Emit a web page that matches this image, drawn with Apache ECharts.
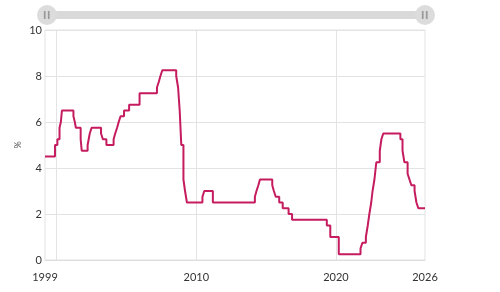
<!DOCTYPE html>
<html>
<head>
<meta charset="utf-8">
<script src="https://cdn.jsdelivr.net/npm/echarts@6/dist/echarts.min.js"></script>
<style>
  html, body { margin: 0; padding: 0; background: #fff; }
  #chart { width: 500px; height: 292px; }
</style>
</head>
<body>
<div id="chart"></div>
<script>
// official cash rate, change dates and new level (%)
const rateDates = [
  '1999-03-01', '1999-11-17', '2000-01-19', '2000-03-15', '2000-04-19', '2000-05-17',
  '2001-03-14', '2001-04-19', '2001-05-16', '2001-09-19', '2001-10-17',
  '2002-03-20', '2002-04-17', '2002-05-15', '2002-07-03',
  '2003-03-06', '2003-04-24', '2003-07-24',
  '2004-01-29', '2004-03-11', '2004-04-29', '2004-06-10', '2004-07-29', '2004-10-28',
  '2005-03-10', '2005-12-08',
  '2007-03-08', '2007-04-26', '2007-06-07', '2007-07-26',
  '2008-07-24', '2008-09-11', '2008-10-23', '2008-12-04',
  '2009-01-29', '2009-03-12', '2009-04-30',
  '2010-06-10', '2010-07-29', '2011-03-10',
  '2014-03-13', '2014-04-24', '2014-06-12', '2014-07-24',
  '2015-06-11', '2015-07-23', '2015-09-10', '2015-12-10',
  '2016-03-10', '2016-08-11', '2016-11-10',
  '2019-05-08', '2019-08-07', '2020-03-16',
  '2021-10-06', '2021-11-24', '2022-02-23', '2022-04-13', '2022-05-25', '2022-07-13',
  '2022-08-17', '2022-10-05', '2022-11-23', '2023-02-22', '2023-04-05', '2023-05-24',
  '2024-08-14', '2024-10-09', '2024-11-27', '2025-02-19', '2025-04-09', '2025-05-28',
  '2025-08-20', '2025-10-08', '2025-11-26', '2026-05-20'
];
const rateValues = [
  4.5, 5.0, 5.25, 5.75, 6.0, 6.5,
  6.25, 6.0, 5.75, 5.25, 4.75,
  5.0, 5.25, 5.5, 5.75,
  5.5, 5.25, 5.0,
  5.25, 5.5, 5.75, 6.0, 6.25, 6.5,
  6.75, 7.25,
  7.5, 7.75, 8.0, 8.25,
  8.0, 7.5, 6.5, 5.0,
  3.5, 3.0, 2.5,
  2.75, 3.0, 2.5,
  2.75, 3.0, 3.25, 3.5,
  3.25, 3.0, 2.75, 2.5,
  2.25, 2.0, 1.75,
  1.5, 1.0, 0.25,
  0.5, 0.75, 1.0, 1.5, 2.0, 2.5,
  3.0, 3.5, 4.25, 4.75, 5.25, 5.5,
  5.25, 4.75, 4.25, 3.75, 3.5, 3.25,
  3.0, 2.5, 2.25, 2.25
];
// x grid lines and x labels
const xGridDates = ['2000-01-01', '2010-01-01', '2020-01-01'];
const xLabelDates = [rateDates[0], '2010-01-01', '2020-01-01', rateDates[rateDates.length - 1]];
const yTicks = [0, 2, 4, 6, 8, 10];

const font = 'Lato, "Open Sans", sans-serif';
const toTime = d => new Date(d + 'T00:00:00Z').getTime();

const chart = echarts.init(document.getElementById('chart'));
const sliderBase = {
  type: 'slider',
  xAxisIndex: 0,
  start: 0,
  end: 100,
  top: 11,
  height: 8,
  left: 45,
  right: 75,
  showDetail: false,
  showDataShadow: false,
  brushSelect: false,
  borderColor: 'transparent',
  backgroundColor: 'transparent',
  moveHandleSize: 0,
  dataBackground: { lineStyle: { opacity: 0 }, areaStyle: { opacity: 0 } },
  selectedDataBackground: { lineStyle: { opacity: 0 }, areaStyle: { opacity: 0 } }
};

chart.setOption({
  animation: false,
  textStyle: { fontFamily: font },
  grid: {
    left: 45, right: 75, top: 30, bottom: 32,
    show: true, borderColor: '#e3e3e3', borderWidth: 1
  },
  dataZoom: [
    Object.assign({}, sliderBase, {
      fillerColor: '#d9d9d9',
      handleIcon: 'circle',
      handleSize: 20,
      handleStyle: { color: '#dcdcdc', borderWidth: 0 }
    }),
    Object.assign({}, sliderBase, {
      z: 10,
      fillerColor: 'transparent',
      handleIcon: 'path://M0,0H1.5V7H0Z M3.5,0H5V7H3.5Z',
      handleSize: 8,
      handleStyle: { color: '#999', borderWidth: 0 }
    })
  ],
  xAxis: {
    type: 'value',
    min: toTime(rateDates[0]),
    max: toTime(rateDates[rateDates.length - 1]),
    axisLine: { show: true, lineStyle: { color: '#dcdcdc' } },
    axisTick: { show: false, customValues: xGridDates.map(toTime) },
    splitLine: { show: true, lineStyle: { color: '#e3e3e3' } },
    axisLabel: {
      customValues: xLabelDates.map(toTime),
      color: '#333',
      fontSize: 11,
      margin: 12,
      formatter: v => String(new Date(v).getUTCFullYear())
    }
  },
  yAxis: {
    type: 'value',
    min: yTicks[0],
    max: yTicks[yTicks.length - 1],
    interval: 2,
    name: '%',
    nameLocation: 'middle',
    nameGap: 22,
    nameMoveOverlap: false,
    nameTextStyle: { color: '#555', fontSize: 9 },
    axisLine: { show: false },
    axisTick: { show: false },
    splitLine: { lineStyle: { color: '#e3e3e3' } },
    axisLabel: { color: '#333', fontSize: 11, margin: 3 }
  },
  series: [{
    type: 'line',
    step: 'end',
    showSymbol: false,
    data: rateDates.map((d, i) => [toTime(d), rateValues[i]]),
    lineStyle: { color: '#c51b5f', width: 2 },
    itemStyle: { color: '#c51b5f' }
  }]
});
</script>
</body>
</html>
